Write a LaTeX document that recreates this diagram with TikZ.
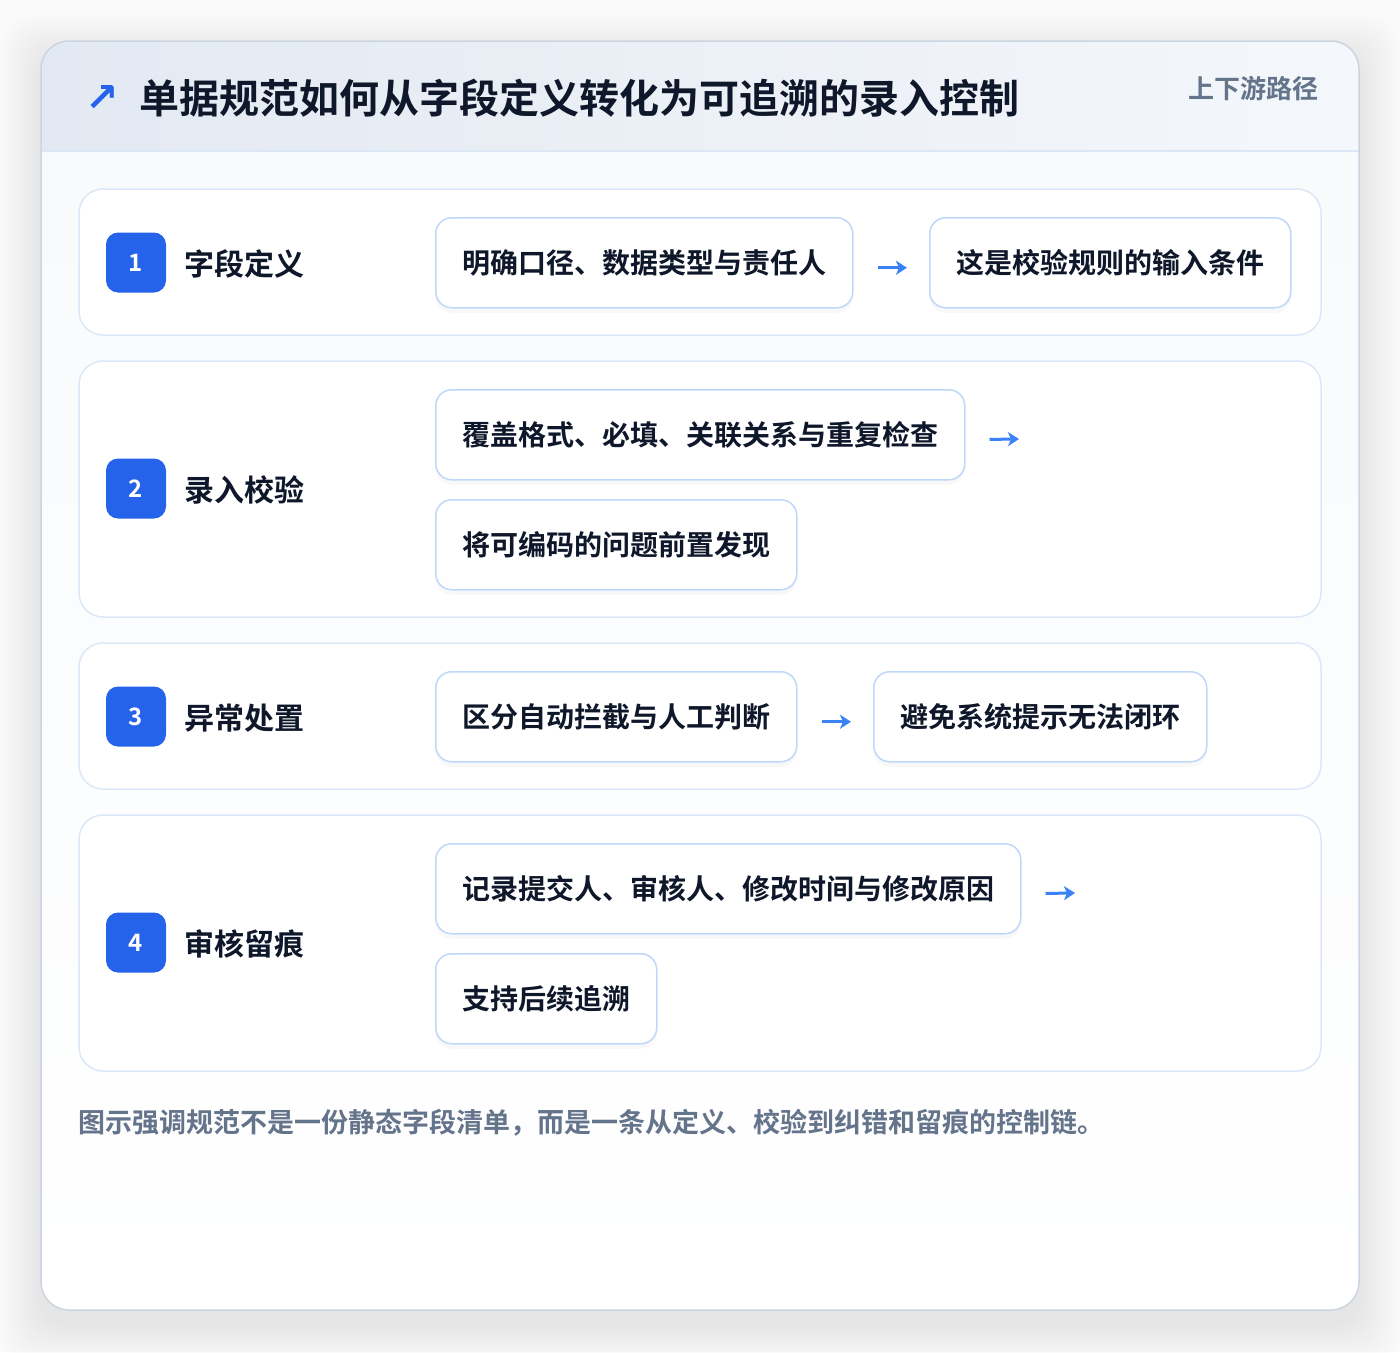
\documentclass[tikz,border=0pt]{standalone}
\usepackage{fontspec}
\setmainfont{Noto Sans CJK SC}[BoldFont={Noto Sans CJK SC Bold}]
\newfontfamily\symfont{DejaVu Sans}
\usepackage{tikz}
\usetikzlibrary{positioning,arrows.meta,shadows}
\definecolor{pagebg}{HTML}{FAFAFB}
\definecolor{cardline}{HTML}{CBD5E1}
\definecolor{headl}{HTML}{E3E9F2}
\definecolor{headr}{HTML}{F4F7FB}
\definecolor{headline}{HTML}{DCE7F6}
\definecolor{bodytop}{HTML}{F8FAFC}
\definecolor{panelline}{HTML}{DCE8F8}
\definecolor{boxline}{HTML}{BFD7F8}
\definecolor{badgeblue}{HTML}{2563EB}
\definecolor{arrowblue}{HTML}{3B82F6}
\definecolor{ink}{HTML}{0F172A}
\definecolor{muted}{HTML}{64748B}

\begin{document}
\begin{tikzpicture}[x=1pt,y=-1pt,
	panel/.style={draw=panelline,line width=1.5pt,fill=white,rounded corners=24pt},
	badge/.style={fill=badgeblue,rounded corners=12pt,minimum size=60pt,inner sep=0pt,text=white,font=\bfseries\fontsize{24}{26}\selectfont},
	stage/.style={anchor=west,inner sep=0pt,text=ink,font=\bfseries\fontsize{30}{34}\selectfont},
	note/.style={draw=boxline,line width=1.5pt,fill=white,rounded corners=16pt,minimum height=90pt,inner xsep=26.5pt,anchor=north west,text=ink,font=\bfseries\fontsize{28}{32}\selectfont,drop shadow={shadow xshift=0pt,shadow yshift=-5pt,opacity=.05}},
	flow/.style={draw=arrowblue,line width=3pt,-{Stealth[length=11pt,width=14pt,inset=3pt]}}]
\useasboundingbox (0,0) rectangle (1400,1352);
\fill[pagebg] (0,0) rectangle (1400,1352);
\foreach \s in {2,4,...,40}
	\fill[black,opacity=.005,rounded corners=30pt] (41-\s,41-\s+14) rectangle (1359+\s,1310+\s+14);
\fill[white,rounded corners=28pt] (41,41) rectangle (1359,1310);
\begin{scope}
	\clip[rounded corners=28pt] (41,41) rectangle (1359,1310);
	\shade[top color=bodytop,bottom color=white] (41,151) rectangle (1359,1310);
	\shade[left color=headl,right color=headr] (41,41) rectangle (1359,151);
	\draw[headline,line width=1.5pt] (41,151) -- (1359,151);
\end{scope}
\draw[cardline,line width=1.5pt,rounded corners=28pt] (41,41) rectangle (1359,1310);

\node[text=badgeblue,font=\symfont\bfseries\fontsize{40}{40}\selectfont] (icon) at (102,98) {↗};
\node[anchor=west,inner sep=0pt,text=ink,font=\bfseries\fontsize{40}{44}\selectfont] (title) at (139,98) {单据规范如何从字段定义转化为可追溯的录入控制};
\node[anchor=east,inner sep=0pt,text=muted,font=\bfseries\fontsize{26}{30}\selectfont] (route) at (1319,89) {上下游路径};

\draw[panel] (79,189) rectangle (1321,335);
\draw[panel] (79,361) rectangle (1321,617);
\draw[panel] (79,643) rectangle (1321,789);
\draw[panel] (79,815) rectangle (1321,1071);

\node[badge] (b1) at (136,262.5) {1};
\node[stage] (s1) at (184,264) {字段定义};
\node[note] (def) at (435,217) {明确口径、数据类型与责任人};
\node[note] (defin) at (929,217) {这是校验规则的输入条件};
\draw[flow,shorten <=24pt,shorten >=22pt] ([yshift=-5pt]def.east) -- ([yshift=-5pt]defin.west);

\node[badge] (b2) at (136,488.5) {2};
\node[stage] (s2) at (184,490) {录入校验};
\node[note] (chk) at (435,389) {覆盖格式、必填、关联关系与重复检查};
\node[note] (chkpre) at (435,499) {将可编码的问题前置发现};
\coordinate (chkout) at (1019,439);
\draw[flow,shorten <=24pt] ([yshift=-5pt]chk.east) -- (chkout);

\node[badge] (b3) at (136,716.5) {3};
\node[stage] (s3) at (184,718) {异常处置};
\node[note] (exc) at (435,671) {区分自动拦截与人工判断};
\node[note] (excend) at (873,671) {避免系统提示无法闭环};
\draw[flow,shorten <=24pt,shorten >=22pt] ([yshift=-5pt]exc.east) -- ([yshift=-5pt]excend.west);

\node[badge] (b4) at (136,942.5) {4};
\node[stage] (s4) at (184,944) {审核留痕};
\node[note] (aud) at (435,843) {记录提交人、审核人、修改时间与修改原因};
\node[note] (audtr) at (435,953) {支持后续追溯};
\coordinate (audout) at (1075,893);
\draw[flow,shorten <=24pt] ([yshift=-5pt]aud.east) -- (audout);

\node[anchor=west,inner sep=0pt,text=muted,font=\bfseries\fontsize{27}{30}\selectfont] (caption) at (78,1123) {图示强调规范不是一份静态字段清单，而是一条从定义、校验到纠错和留痕的控制链。};
\end{tikzpicture}
\end{document}
